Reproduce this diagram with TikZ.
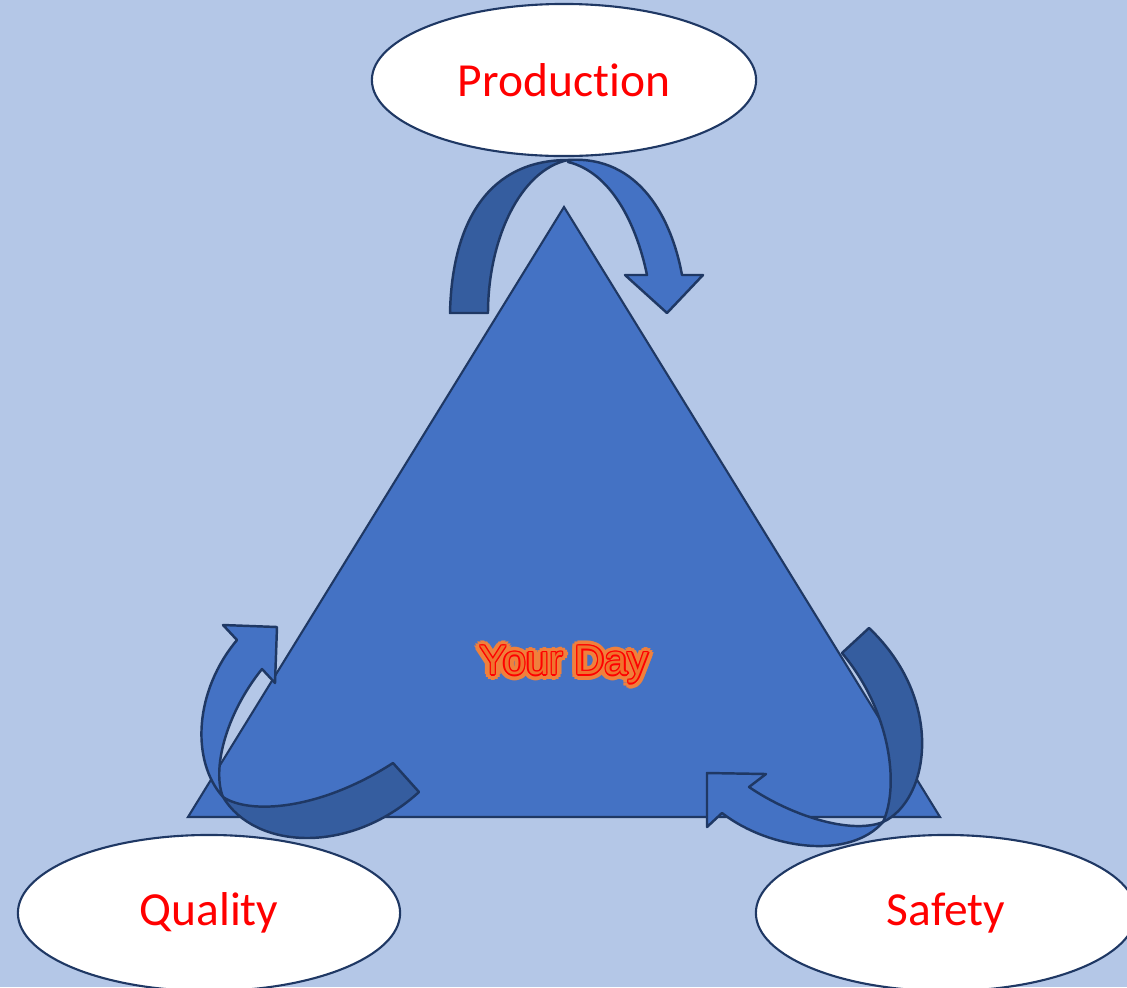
\documentclass[tikz,border=0pt]{standalone}
\usepackage{fontspec}
\setmainfont{Carlito}[Ligatures=NoCommon]
\newfontfamily\dayfont{Liberation Sans}
\usetikzlibrary{shapes.geometric,calc}
\definecolor{bgblue}{RGB}{180,199,231}
\definecolor{triblue}{RGB}{68,114,196}
\definecolor{backblue}{RGB}{53,93,159}
\definecolor{edgeblue}{RGB}{31,56,100}
\definecolor{glow}{RGB}{240,128,60}
\definecolor{dayfill}{RGB}{240,115,45}
\tikzset{
  bubble/.style={ellipse, draw=edgeblue, line width=0.6pt, fill=white, inner sep=0pt,
    text=red, font=\fontsize{13.5}{16}\selectfont},
  front/.style={draw=edgeblue, line width=0.7pt, fill=triblue, line join=round},
  back/.style={draw=edgeblue, line width=0.7pt, fill=backblue, line join=round},
  daytext/.style={inner sep=0pt, font=\dayfont\fontsize{11.8}{14}\selectfont}
}
\begin{document}
\begin{tikzpicture}[x=0.01cm, y=-0.01cm]
  \fill[bgblue] (0,0) rectangle (1127,987);
  \clip (0,0) rectangle (1127,987);
  % Triangle
  \draw[edgeblue, fill=triblue, line width=0.6pt] (564,207) -- (940,817) -- (188,817) -- cycle;
  % Ellipses
  \node[bubble, minimum width=3.84cm, minimum height=1.52cm] (prod) at (564,80) {Production};
  \node[bubble, minimum width=3.82cm, minimum height=1.56cm] (qual) at (209,913) {Quality};
  \node[bubble, minimum width=3.80cm, minimum height=1.56cm] (safe) at (946,913) {Safety};
  % Top arrow
  \draw[back] (450,313) .. controls (452,220) and (490,160) .. (568,160)
    .. controls (520,170) and (488,240) .. (488,313) -- cycle;
  \draw[front] (568,160) .. controls (640,155) and (672,220) .. (682,275)
    -- (703,275) -- (667,313) -- (625,275) -- (647,275)
    .. controls (636,222) and (610,172) .. (568,162) -- cycle;
  % Left arrow
  \draw[back] (223,797) .. controls (250,815) and (320,810) .. (393,763)
    -- (419,792) .. controls (350,855) and (255,850) .. (223,797) -- cycle;
  \draw[front] (223,797) .. controls (190,760) and (195,690) .. (237,640)
    -- (223,625) -- (277,627) -- (275,683) -- (262,669)
    .. controls (225,715) and (212,770) .. (223,797) -- cycle;
  % Right arrow
  \draw[back] (883,822) .. controls (930,800) and (945,700) .. (869,628)
    -- (842,653) .. controls (890,710) and (900,785) .. (883,822) -- cycle;
  \draw[front] (883,822) .. controls (850,860) and (770,850) .. (722,813)
    -- (707,827) -- (707,773) -- (766,774) -- (749,787)
    .. controls (790,815) and (850,835) .. (883,822) -- cycle;
  % Your Day
  \coordinate (daypos) at (564,665);
  \foreach \a in {0,30,...,330}
    \node[daytext, text=glow] (glow-\a) at ($(daypos)+(\a:1.6pt)$) {Your Day};
  \foreach \a in {0,45,...,315}
    \node[daytext, text=red] (rim-\a) at ($(daypos)+(\a:0.4pt)$) {Your Day};
  \node[daytext, text=dayfill] (day) at (daypos) {Your Day};
\end{tikzpicture}
\end{document}
